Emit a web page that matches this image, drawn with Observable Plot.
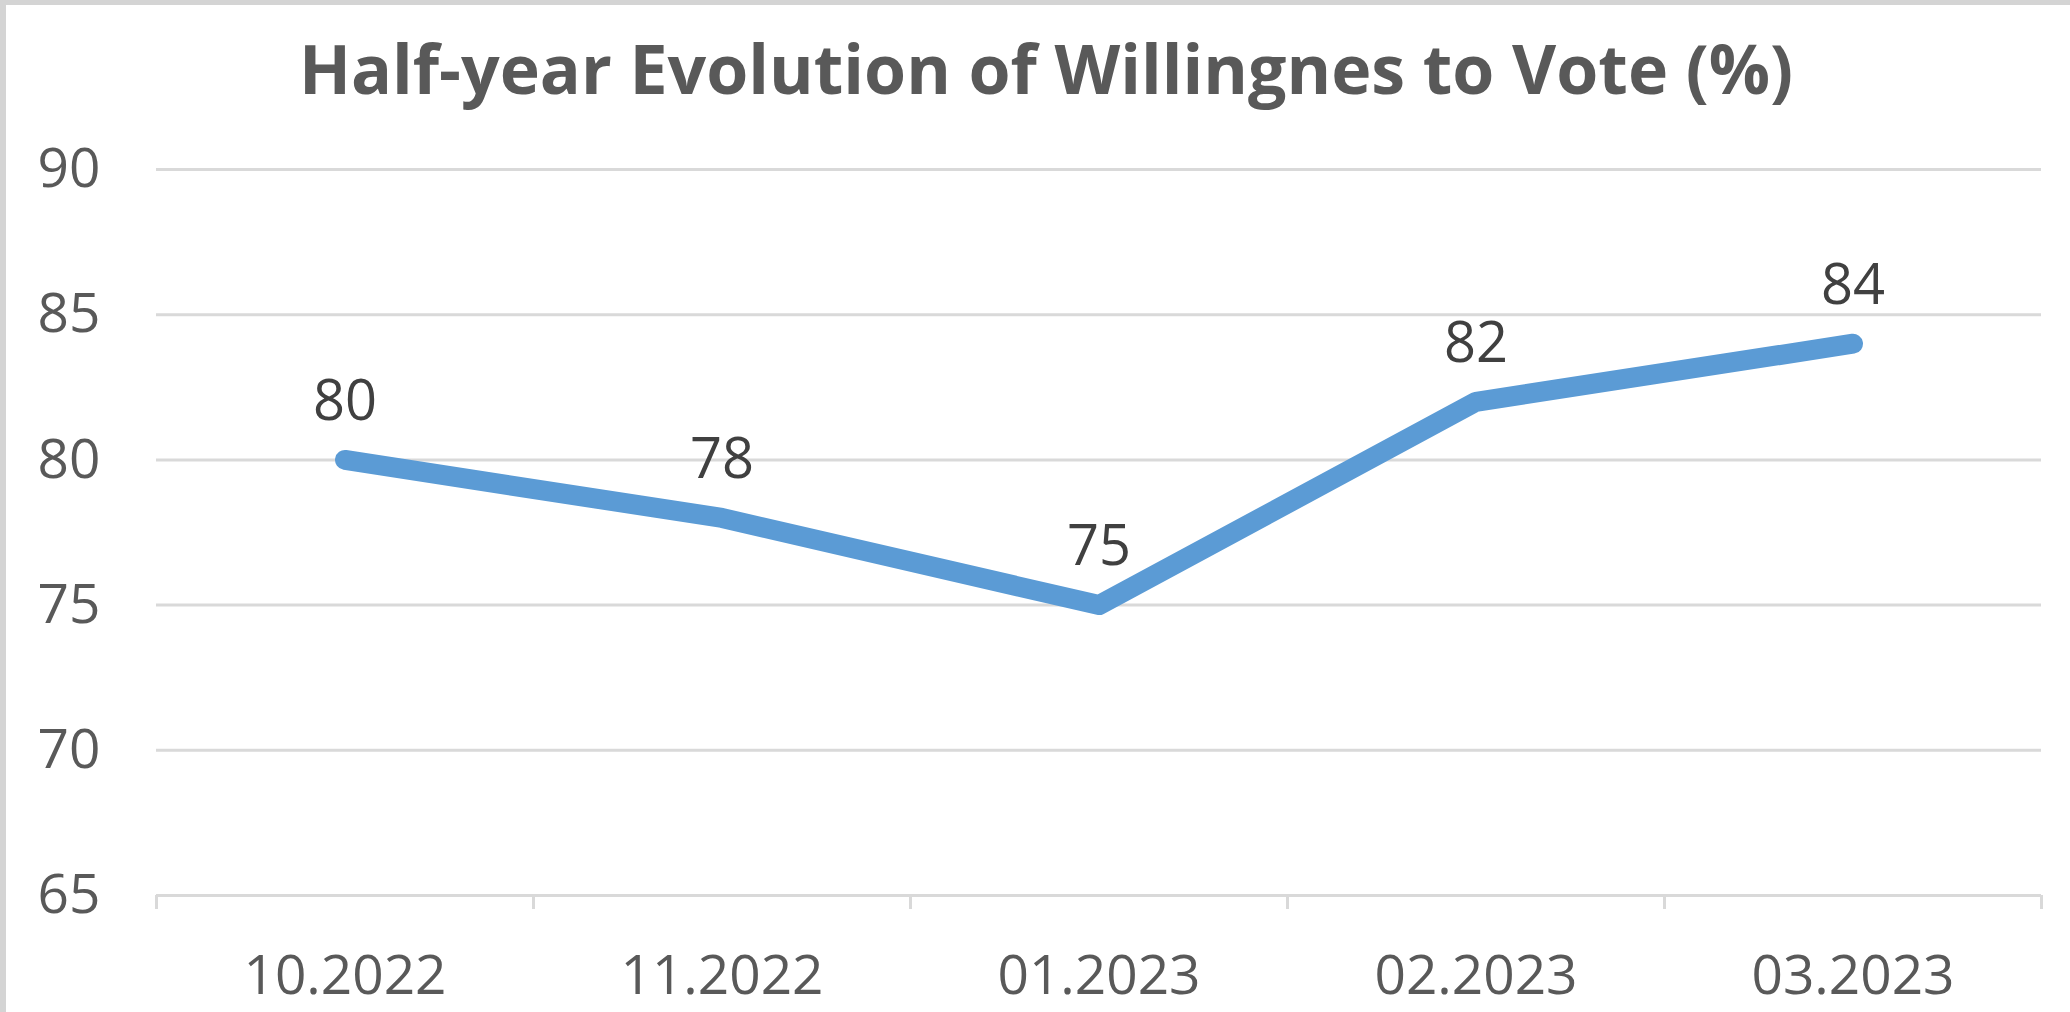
<!DOCTYPE html>
<html>
<head>
<meta charset="utf-8">
<script src="https://cdn.jsdelivr.net/npm/d3@7"></script>
<script src="https://cdn.jsdelivr.net/npm/@observablehq/plot@0.6"></script>
<style>
  html, body { margin: 0; padding: 0; background: #ffffff; }
  body { width: 2070px; height: 1012px; overflow: hidden; position: relative; font-family: "Open Sans", sans-serif; }
  #title { box-sizing: border-box; height: 100px; padding-top: 36px; padding-left: 22px; text-align: center;
           font-size: 68px; line-height: 64px; font-weight: 700; color: #595959; width: 2070px; white-space: nowrap; }
  #chart svg { overflow: visible; }
  .bt { position: absolute; left: 0; top: 0; width: 2070px; height: 5px; background: #d4d4d4; }
  .bl { position: absolute; left: 0; top: 0; width: 6px; height: 1012px; background: #d4d4d4; }
</style>
</head>
<body>
<div id="title">Half-year Evolution of Willingnes to Vote (%)</div>
<div id="chart"></div>
<div class="bt"></div>
<div class="bl"></div>
<script>
const categories = ["10.2022", "11.2022", "01.2023", "02.2023", "03.2023"];
const values = [80, 78, 75, 82, 84];
const yTicks = [65, 70, 75, 80, 85, 90];

const data = categories.map((c, i) => ({i, category: c, value: values[i]}));
const centers = categories.map((_, i) => i);
const boundaries = categories.map((_, i) => i - 0.5).concat([categories.length - 0.5]);

const chart = Plot.plot({
  width: 2070,
  height: 912,
  marginTop: 69,
  marginBottom: 117,
  marginLeft: 156,
  marginRight: 29,
  style: {fontFamily: "Open Sans, sans-serif", background: "transparent"},
  x: {type: "linear", domain: [-0.5, categories.length - 0.5]},
  y: {domain: [65, 90]},
  marks: [
    Plot.gridY(yTicks, {stroke: "#d9d9d9", strokeOpacity: 1, strokeWidth: 3}),
    Plot.axisX(boundaries, {tickSize: 14, tickFormat: () => "", stroke: "#d9d9d9", strokeWidth: 3, label: null}),
    Plot.axisX(centers, {tickSize: 0, tickPadding: 59, tickFormat: i => categories[i], fontSize: 55, fill: "#595959", label: null}),
    Plot.axisY(yTicks, {tickSize: 0, tickPadding: 56, fontSize: 55, fill: "#595959", label: null}),
    Plot.line(data, {x: "i", y: "value", stroke: "#5b9bd5", strokeWidth: 20, strokeLinecap: "round", strokeLinejoin: "round"}),
    Plot.text(data, {x: "i", y: "value", text: d => String(d.value), dy: -58, fontSize: 56, fill: "#404040", lineAnchor: "middle"})
  ]
});
document.getElementById("chart").appendChild(chart);
</script>
</body>
</html>
